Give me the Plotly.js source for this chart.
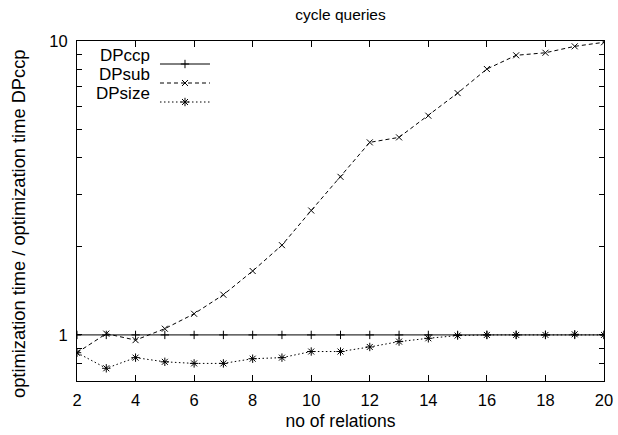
<!DOCTYPE html>
<html>
<head>
<meta charset="utf-8">
<script src="https://cdn.plot.ly/plotly-3.0.1.min.js"></script>
<style>html,body{margin:0;padding:0;background:#fff;}#chart{width:618px;height:435px;}</style>
</head>
<body>
<div id="chart"></div>
<script>
const relations = [2,3,4,5,6,7,8,9,10,11,12,13,14,15,16,17,18,19,20];
const dpccp  = [1,1,1,1,1,1,1,1,1,1,1,1,1,1,1,1,1,1,1];
const dpsub  = [0.87,1.01,0.96,1.05,1.18,1.37,1.65,2.02,2.65,3.45,4.52,4.70,5.57,6.65,8.03,8.94,9.12,9.59,9.90];
const dpsize = [0.87,0.77,0.837,0.81,0.80,0.80,0.83,0.837,0.878,0.878,0.91,0.949,0.974,0.995,1.0,1.0,1.0,1.005,1.0];
const seriesNames = ['DPccp','DPsub','DPsize'];
const xTicks = [2,4,6,8,10,12,14,16,18,20];
const yTicks = [0.7,0.8,0.9,1,2,3,4,5,6,7,8,9,10];
const yTickText = ['','','','1','','','','','','','','','10'];

const font = {family:'Liberation Sans, Arial, sans-serif', color:'#000'};
const traces = [
  {x:relations, y:dpccp, name:'', mode:'lines+markers', line:{color:'#000', width:1},
   marker:{symbol:'cross-thin-open', size:6, color:'#000', line:{width:1, color:'#000'}}},
  {x:relations, y:dpsub, name:'', mode:'lines+markers', line:{color:'#000', width:1, dash:'4px,3px'},
   marker:{symbol:'x-thin-open', size:6, color:'#000', line:{width:1, color:'#000'}}},
  {x:relations, y:dpsize, name:'', mode:'lines+markers', line:{color:'#000', width:1, dash:'1.5px,2.5px'},
   marker:{symbol:'asterisk-open', size:7, color:'#000', line:{width:1, color:'#000'}}}
];
const annotations = seriesNames.map((n,i)=>({
  text:n, xref:'paper', yref:'paper', x:0.1423, y:0.9588-0.0559*i, xanchor:'right', yanchor:'middle',
  showarrow:false, font:Object.assign({size:17}, font)
}));
annotations.push({text:'optimization time / optimization time DPccp', xref:'paper', yref:'paper',
  x:0, xshift:-58, y:0.4618, xanchor:'center', yanchor:'middle', textangle:-90, showarrow:false,
  font:Object.assign({size:18.3}, font)});
const layout = {
  width:618, height:435,
  margin:{l:77, r:14, t:41, b:54},
  paper_bgcolor:'#fff', plot_bgcolor:'#fff',
  font:Object.assign({size:16}, font),
  title:{text:'cycle queries', x:0.5, xref:'paper', y:0.967, yanchor:'middle', font:Object.assign({size:15.5}, font)},
  xaxis:{range:[2,20], tickvals:xTicks, ticks:'inside', ticklen:6, tickcolor:'#000', mirror:'ticks',
    showline:true, linecolor:'#000', linewidth:1, showgrid:false, zeroline:false,
    tickfont:Object.assign({size:16.5}, font), ticklabelstandoff:4,
    title:{text:'no of relations', font:Object.assign({size:17.5}, font), standoff:6}},
  yaxis:{type:'log', range:[Math.log10(0.697), 1], tickvals:yTicks, ticktext:yTickText,
    ticks:'inside', ticklen:5, tickcolor:'#000', mirror:'ticks',
    showline:true, linecolor:'#000', linewidth:1, showgrid:false, zeroline:false,
    tickfont:Object.assign({size:16.5}, font), ticklabelstandoff:5},
  showlegend:true,
  legend:{x:0.148, y:0.975, xanchor:'left', yanchor:'top', bgcolor:'rgba(0,0,0,0)', itemwidth:50,
    font:Object.assign({size:12}, font), tracegroupgap:0},
  annotations:annotations
};
Plotly.newPlot('chart', traces, layout, {displayModeBar:false, staticPlot:true});
</script>
</body>
</html>
